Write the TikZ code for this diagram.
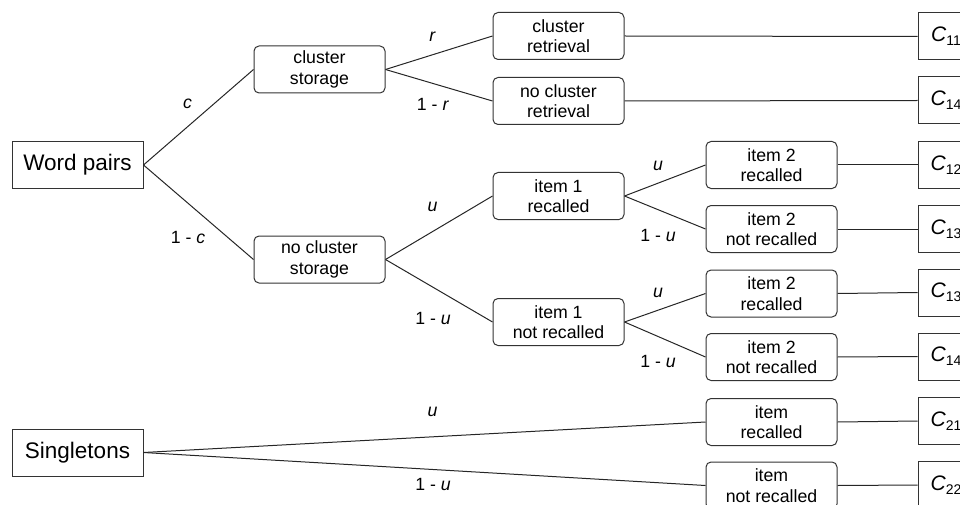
\documentclass[tikz,border=0pt]{standalone}
\usepackage{fontspec}
\setmainfont{Liberation Sans}
\newcommand{\cname}[1]{\textit{C}\raisebox{-0.35ex}{\fontsize{14}{16}\selectfont #1}}
\begin{document}
\begin{tikzpicture}[x=1pt,y=-1pt,
  every node/.style={font=\fontsize{17.7}{20.5}\selectfont},
  rbox/.style={draw=black!80,line width=1pt,rounded corners=5pt,minimum width=131pt,minimum height=47pt,inner sep=0pt,align=center},
  sbox/.style={draw=black!80,line width=1pt,minimum width=131pt,minimum height=47pt,inner sep=0pt,font=\fontsize{22.5}{26}\selectfont},
  cbox/.style={draw=black!80,line width=1pt,minimum width=56pt,minimum height=47pt,inner sep=0pt,anchor=west,font=\fontsize{21}{24}\selectfont},
  lbl/.style={inner sep=0pt},
  conn/.style={draw=black!85,line width=1pt}]
\useasboundingbox (0,0) rectangle (960,505);
\clip (0,0) rectangle (960,505);
% roots
\node[sbox] (wp) at (77.5,165) {Word pairs};
\node[sbox] (sg) at (77.5,452.5) {Singletons};
% level 1
\node[rbox] (cs) at (319.5,69.5) {cluster\\storage};
\node[rbox] (ncs) at (319.5,259.5) {no cluster\\storage};
% level 2
\node[rbox] (cr) at (558.5,36) {cluster\\retrieval};
\node[rbox] (ncr) at (558.5,101) {no cluster\\retrieval};
\node[rbox] (i1r) at (558.5,196) {item 1\\recalled};
\node[rbox] (i1n) at (558.5,322) {item 1\\not recalled};
% level 3
\node[rbox] (a2r) at (771.5,165) {item 2\\recalled};
\node[rbox] (a2n) at (771.5,229) {item 2\\not recalled};
\node[rbox] (b2r) at (771.5,293.5) {item 2\\recalled};
\node[rbox] (b2n) at (771.5,357) {item 2\\not recalled};
\node[rbox] (sr) at (771.5,422) {item\\recalled};
\node[rbox] (sn) at (771.5,485.5) {item\\not recalled};
% outcomes
\node[cbox] (c11) at (917.5,36.5) {\cname{11}};
\node[cbox] (c14a) at (917.5,100.5) {\cname{14}};
\node[cbox] (c12) at (917.5,165) {\cname{12}};
\node[cbox] (c13a) at (917.5,229) {\cname{13}};
\node[cbox] (c13b) at (917.5,292.5) {\cname{13}};
\node[cbox] (c14b) at (917.5,356.5) {\cname{14}};
\node[cbox] (c21) at (917.5,421) {\cname{21}};
\node[cbox] (c22) at (917.5,485) {\cname{22}};
% connectors
\draw[conn] (wp.east) -- (cs.west);
\draw[conn] (wp.east) -- (ncs.west);
\draw[conn] (cs.east) -- (cr.west);
\draw[conn] (cs.east) -- (ncr.west);
\draw[conn] (ncs.east) -- (i1r.west);
\draw[conn] (ncs.east) -- (i1n.west);
\draw[conn] (i1r.east) -- (a2r.west);
\draw[conn] (i1r.east) -- (a2n.west);
\draw[conn] (i1n.east) -- (b2r.west);
\draw[conn] (i1n.east) -- (b2n.west);
\draw[conn] (sg.east) -- (sr.west);
\draw[conn] (sg.east) -- (sn.west);
\draw[conn] (cr.east) -- (c11.west);
\draw[conn] (ncr.east) -- (c14a.west);
\draw[conn] (a2r.east) -- (c12.west);
\draw[conn] (a2n.east) -- (c13a.west);
\draw[conn] (b2r.east) -- (c13b.west);
\draw[conn] (b2n.east) -- (c14b.west);
\draw[conn] (sr.east) -- (c21.west);
\draw[conn] (sn.east) -- (c22.west);
% labels
\node[lbl] (lc) at (187.5,104) {\textit{c}};
\node[lbl] (l1c) at (188,237) {1 - \textit{c}};
\node[lbl] (lr) at (432.5,37) {\textit{r}};
\node[lbl] (l1r) at (433,104) {1 - \textit{r}};
\node[lbl] (lu1) at (432.5,207) {\textit{u}};
\node[lbl] (l1u1) at (433,318) {1 - \textit{u}};
\node[lbl] (lu2) at (658,165.5) {\textit{u}};
\node[lbl] (l1u2) at (658,235) {1 - \textit{u}};
\node[lbl] (lu3) at (658,292.5) {\textit{u}};
\node[lbl] (l1u3) at (658,361.5) {1 - \textit{u}};
\node[lbl] (lu4) at (432.5,412) {\textit{u}};
\node[lbl] (l1u4) at (433,484) {1 - \textit{u}};
\end{tikzpicture}
\end{document}
